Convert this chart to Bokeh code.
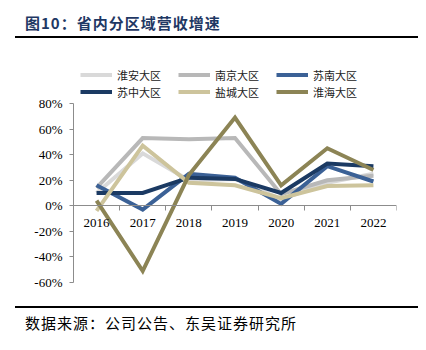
from bokeh.plotting import figure
from bokeh.models import (Range1d, FixedTicker, PrintfTickFormatter, Legend, LegendItem, Div)
from bokeh.layouts import column
from bokeh.embed import file_html
from bokeh.resources import INLINE

years = ["2016", "2017", "2018", "2019", "2020", "2021", "2022"]
huaian = [10, 41, 20, 21, 5, 18, 25]
nanjing = [14, 53, 52, 53, 9, 20, 23.5]
sunan = [16, -3, 25, 22, 1.5, 31, 19]
suzhong = [10, 10, 22, 21, 10, 33, 31]
yancheng = [-4, 47, 18, 16, 6, 15.5, 16]
huaihai = [4, -51, 24, 69, 16, 45, 28]

series = [
    ("淮安大区", huaian, "#d9d9d9"),
    ("南京大区", nanjing, "#b8b8b8"),
    ("苏南大区", sunan, "#3b6196"),
    ("苏中大区", suzhong, "#1b3a63"),
    ("盐城大区", yancheng, "#cdc49c"),
    ("淮海大区", huaihai, "#8c8455"),
]

W = 426
TOP_H, BOT_H = 38, 44
FIG_H = 350 - TOP_H - BOT_H          # figure spans canvas y 38..306
FL = 73                              # frame left (px)
FB = 282 - TOP_H                     # frame bottom within figure
Y80 = 103 - TOP_H                    # pixel of 80% within figure
ymin, ymax = -60, 80
y_top = ymax + Y80 * (ymax - ymin) / (FB - Y80)   # range end so 80% lands at Y80

p = figure(width=W, height=FIG_H, output_backend="svg", toolbar_location=None,
           x_range=Range1d(0, 7), y_range=Range1d(ymin, y_top),
           min_border_left=FL, min_border_right=W - 396, min_border_top=0,
           min_border_bottom=FIG_H - FB, margin=(0, 0, 0, 0))
p.outline_line_color = None
p.xgrid.visible = False
p.ygrid.visible = False
p.background_fill_color = "white"
p.border_fill_color = "white"

xs = [i + 0.5 for i in range(len(years))]
items = []
for name, vals, col in series:
    r = p.line(xs, vals, line_color=col, line_width=4, line_join="miter")
    items.append(LegendItem(label=name, renderers=[r]))

serif = "Liberation Serif"
xa = p.xaxis[0]
xa.fixed_location = 0
xa.bounds = (0, 7)
xa.ticker = FixedTicker(ticks=xs, minor_ticks=list(range(1, 8)))
xa.major_label_overrides = {x: y for x, y in zip(xs, years)}
xa.major_tick_line_color = None
xa.major_tick_out = 0
xa.major_tick_in = 0
xa.minor_tick_out = 5
xa.minor_tick_in = 0
xa.minor_tick_line_color = "#8c8c8c"
xa.axis_line_color = "#8c8c8c"
xa.major_label_standoff = 8
xa.major_label_text_font = serif
xa.major_label_text_font_size = "13px"
xa.major_label_text_color = "black"

ya = p.yaxis[0]
ya.bounds = (ymin, ymax)
ya.ticker = FixedTicker(ticks=list(range(-60, 81, 20)), minor_ticks=[])
ya.formatter = PrintfTickFormatter(format="%d%%")
ya.major_tick_out = 4
ya.major_tick_in = 0
ya.major_tick_line_color = "#8c8c8c"
ya.axis_line_color = "#8c8c8c"
ya.major_label_standoff = 7
ya.major_label_text_font = serif
ya.major_label_text_font_size = "13px"
ya.major_label_text_color = "black"

legend = Legend(items=items, ncols=3, location=(7, FB - (100 - TOP_H)),
                orientation="horizontal",
                glyph_width=32, glyph_height=17, label_height=17, label_width=61,
                label_standoff=5, spacing=0, padding=0, margin=0,
                border_line_color=None, background_fill_alpha=0,
                label_text_font="Noto Sans CJK SC", label_text_font_size="11px",
                label_text_color="#222222")
p.add_layout(legend, "center")

title_html = (
    '<div style="position:relative;width:426px;height:38px;margin:0;">'
    '<div style="position:absolute;left:25px;top:15px;line-height:15px;white-space:nowrap;'
    "font-family:'Noto Sans CJK SC';font-weight:bold;font-size:15px;letter-spacing:1px;"
    'color:#1f3864;">图10：省内分区域营收增速</div>'
    '<div style="position:absolute;left:15px;top:36px;width:403px;height:2px;background:#000;"></div>'
    '</div>'
)
src_html = (
    '<div style="position:relative;width:426px;height:44px;margin:0;">'
    '<div style="position:absolute;left:15px;top:0px;width:403px;height:2px;background:#000;"></div>'
    '<div style="position:absolute;left:25px;top:9px;line-height:15px;white-space:nowrap;'
    "font-family:'Noto Sans CJK SC';font-size:15px;letter-spacing:1px;color:#000;\">"
    '数据来源：公司公告、东吴证券研究所</div>'
    '</div>'
)
top_div = Div(text=title_html, width=W, height=TOP_H, margin=(0, 0, 0, 0))
bot_div = Div(text=src_html, width=W, height=BOT_H, margin=(0, 0, 0, 0))

layout = column(top_div, p, bot_div, spacing=0, margin=(0, 0, 0, 0))
open("out.html", "w").write(file_html(layout, INLINE))
